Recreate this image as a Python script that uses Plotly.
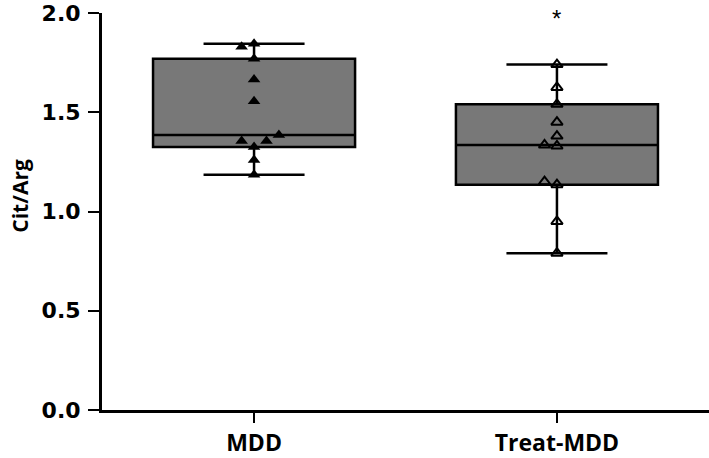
"""Box plot of Cit/Arg ratio: MDD vs Treat-MDD, with individual points."""

import plotly.graph_objects as go

categories = ["MDD", "Treat-MDD"]
mdd = [1.185, 1.26, 1.325, 1.355, 1.355, 1.385, 1.555, 1.665, 1.77, 1.845, 1.83]
treat_mdd = [0.79, 0.95, 1.135, 1.15, 1.33, 1.335, 1.38, 1.45, 1.54, 1.625, 1.74]
y_ticks = [0.0, 0.5, 1.0, 1.5, 2.0]
sig_mark = "*"
sig_y = 1.97


def swarm_offsets(values, gap=0.035, step=0.041):
    """Spread points with near-equal values sideways (slots 0, -1, +1, +2 ...)."""
    order = sorted(range(len(values)), key=lambda i: values[i])
    groups, current = [], [order[0]]
    for prev, i in zip(order, order[1:]):
        if values[i] - values[prev] < gap:
            current.append(i)
        else:
            groups.append(current)
            current = [i]
    groups.append(current)
    slots = [0, -1, 1, 2, -2, 3, -3]
    offsets = [0.0] * len(values)
    for g in groups:
        for k, i in enumerate(sorted(g)):
            offsets[i] = slots[k] * step
    return offsets


fig = go.Figure()

series = [
    (mdd, dict(symbol="triangle-up", size=11, color="black")),
    (treat_mdd, dict(symbol="triangle-up-open", size=10, color="black",
                     line=dict(color="black", width=2))),
]

for pos, (vals, marker) in enumerate(series):
    fig.add_trace(
        go.Box(
            y=vals,
            x0=pos,
            width=0.667,
            quartilemethod="exclusive",
            boxpoints=False,
            fillcolor="#787878",
            line=dict(color="black", width=2.5),
            whiskerwidth=0.5,
            showlegend=False,
            hoverinfo="skip",
        )
    )
    offs = swarm_offsets(vals)
    fig.add_trace(
        go.Scatter(
            x=[pos + o for o in offs],
            y=vals,
            mode="markers",
            marker=marker,
            showlegend=False,
            cliponaxis=False,
        )
    )

fig.add_annotation(
    x=1, y=sig_y, text=sig_mark, showarrow=False,
    font=dict(family="Liberation Sans", size=24, color="black"),
)
fig.add_annotation(
    xref="paper", yref="y", x=-0.135, y=1.08, text="Cit/Arg", showarrow=False,
    textangle=-90, xanchor="center", yanchor="middle",
    font=dict(family="Open Sans", size=21, color="black", weight="bold"),
)

fig.update_xaxes(
    range=[-0.502, 1.502],
    tickvals=[0, 1],
    ticktext=categories,
    showline=True, linecolor="black", linewidth=3,
    ticks="outside", ticklen=10, tickwidth=2, tickcolor="black",
    tickfont=dict(family="Open Sans", size=23, color="black", weight="bold"),
    showgrid=False, zeroline=False,
)
fig.update_yaxes(
    range=[0, 2],
    tickvals=y_ticks,
    tickformat=".1f",
    showline=True, linecolor="black", linewidth=3,
    ticks="outside", ticklen=11, tickwidth=2, tickcolor="black",
    ticklabelstandoff=3,
    tickfont=dict(family="DejaVu Sans", size=22, color="black", weight="bold"),
    showgrid=False, zeroline=False,
)

fig.update_layout(
    width=709, height=458,
    margin=dict(l=102, r=0, t=13, b=43),
    plot_bgcolor="white", paper_bgcolor="white",
)

fig.write_html(
    "out.html",
    config={"displayModeBar": False},
    post_script="document.body.style.margin='0';",
)
